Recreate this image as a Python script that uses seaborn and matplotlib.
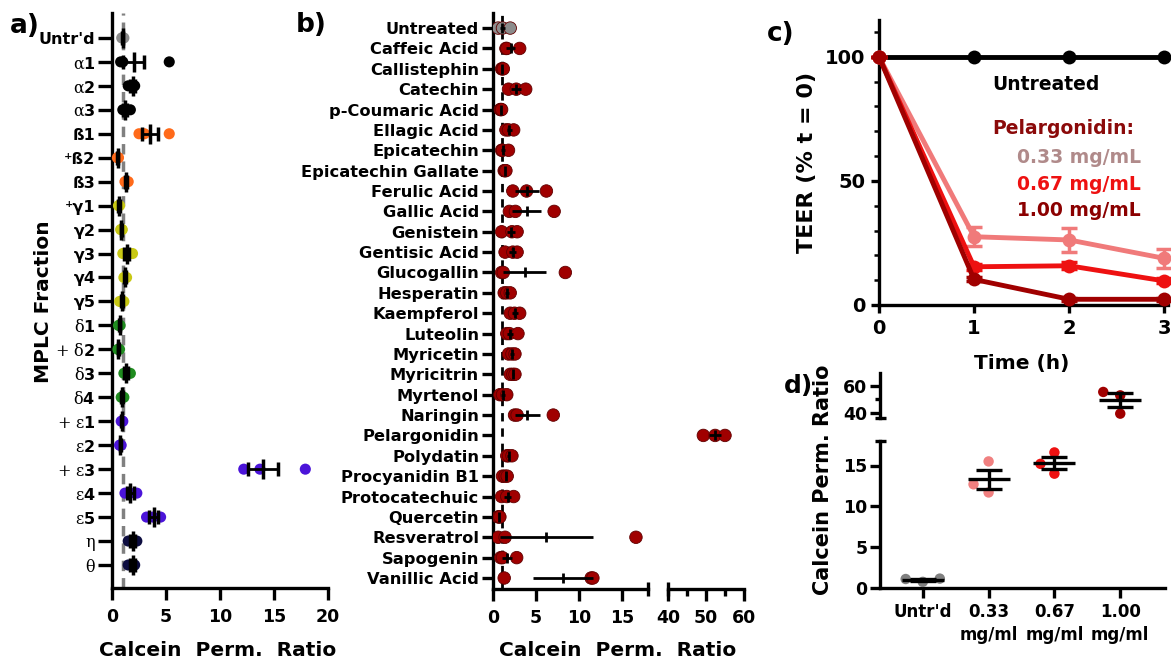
import numpy as np
import pandas as pd
import matplotlib
matplotlib.use("Agg")
import matplotlib.pyplot as plt
from matplotlib.ticker import FixedLocator
import seaborn as sns

# ---------------- panel a: MPLC fractions ----------------
a_labels = ["Untr'd", r"$\alpha$1", r"$\alpha$2", r"$\alpha$3", "ß1", "⁺ß2", "ß3",
            "⁺γ1", "γ2", "γ3", "γ4", "γ5", r"$\delta$1", r"$+\ \delta$2", r"$\delta$3",
            r"$\delta$4", r"$+\ \varepsilon$1", r"$\varepsilon$2", r"$+\ \varepsilon$3",
            r"$\varepsilon$4", r"$\varepsilon$5", r"$\eta$", r"$\theta$"]
a_points = [[0.9, 1.0, 1.1], [0.8, 1.0, 5.3], [1.5, 1.9, 2.1], [1.0, 1.2, 1.7],
            [2.5, 3.0, 5.3], [0.5, 0.55, 0.6], [1.2, 1.3, 1.5], [0.6, 0.65, 0.7],
            [0.8, 0.9, 0.95], [1.0, 1.2, 1.9], [1.1, 1.25, 1.35], [0.7, 0.85, 1.1],
            [0.6, 0.7, 0.75], [0.55, 0.6, 0.7], [1.1, 1.3, 1.7], [0.85, 0.95, 1.1],
            [0.85, 0.95, 1.0], [0.7, 0.75, 0.85], [12.2, 13.7, 17.9], [1.2, 1.7, 2.3],
            [3.2, 3.8, 4.5], [1.5, 1.9, 2.3], [1.5, 1.8, 2.1]]
a_means = [1.0, 2.0, 1.9, 1.2, 3.5, 0.55, 1.3, 0.65, 0.85, 1.35, 1.2, 0.9,
           0.7, 0.6, 1.3, 0.95, 0.9, 0.75, 14.0, 1.7, 3.85, 1.9, 1.9]
a_sems = [0.05, 1.0, 0.2, 0.2, 0.75, 0.05, 0.1, 0.05, 0.05, 0.25, 0.1, 0.1,
          0.05, 0.05, 0.2, 0.1, 0.05, 0.05, 1.4, 0.3, 0.4, 0.25, 0.2]
a_colors = ["#8c8c8c"] + ["#000000"] * 3 + ["#ff6a1a"] * 3 + ["#c8c814"] * 5 + \
           ["#1f8c1f"] * 4 + ["#4b14d9"] * 5 + ["#0d0d40"] * 2

# ---------------- panel b: compounds ----------------
b_labels = ["Untreated", "Caffeic Acid", "Callistephin", "Catechin", "p-Coumaric Acid",
            "Ellagic Acid", "Epicatechin", "Epicatechin Gallate", "Ferulic Acid",
            "Gallic Acid", "Genistein", "Gentisic Acid", "Glucogallin", "Hesperatin",
            "Kaempferol", "Luteolin", "Myricetin", "Myricitrin", "Myrtenol", "Naringin",
            "Pelargonidin", "Polydatin", "Procyanidin B1", "Protocatechuic", "Quercetin",
            "Resveratrol", "Sapogenin", "Vanillic Acid"]
b_points = [[0.6, 1.1, 2.0], [1.5, 1.6, 3.1], [1.0, 1.1, 1.2], [1.8, 2.7, 3.8],
            [0.85, 0.9, 1.0], [1.5, 1.8, 2.4], [1.0, 1.1, 1.8], [1.3, 1.4, 1.5],
            [2.3, 3.9, 6.2], [1.9, 2.6, 7.1], [1.0, 2.2, 2.8], [1.4, 2.3, 2.8],
            [1.0, 1.2, 8.4], [1.3, 1.6, 2.0], [2.0, 2.5, 3.1], [1.6, 1.9, 2.9],
            [1.8, 2.2, 2.55], [2.0, 2.3, 2.55], [0.8, 1.1, 1.6], [2.5, 2.8, 7.0],
            [49.3, 52.4, 55.0], [1.6, 1.8, 2.2], [1.1, 1.4, 1.65], [1.0, 1.6, 2.4],
            [0.6, 0.7, 0.8], [0.6, 1.4, 16.6], [0.9, 1.1, 2.75], [1.3, 11.4, 11.6]]
b_means = [1.1, 2.05, 1.1, 2.7, 0.9, 1.9, 1.2, 1.4, 3.9, 3.9, 2.1, 2.3, 3.7, 1.65,
           2.55, 2.0, 2.2, 2.3, 1.2, 4.0, 52.3, 1.8, 1.5, 1.7, 0.7, 6.2, 1.6, 8.1]
b_sems = [0.3, 0.5, 0.05, 0.6, 0.05, 0.3, 0.25, 0.05, 1.4, 1.7, 0.5, 0.4, 2.5, 0.2,
          0.3, 0.35, 0.2, 0.15, 0.25, 1.5, 1.6, 0.2, 0.15, 0.4, 0.05, 5.4, 0.6, 3.5]

# ---------------- panel c: TEER ----------------
c_time = [0, 1, 2, 3]
c_untreated = [100, 100, 100, 100]
c_033 = [100, 27.5, 26.2, 18.8]
c_033_err = [0, 3.8, 5.0, 3.8]
c_067 = [100, 15.4, 15.8, 9.7]
c_067_err = [0, 1.2, 1.5, 1.0]
c_100 = [100, 10.3, 2.3, 2.3]
c_100_err = [0, 0.8, 0.5, 0.5]

# ---------------- panel d: pelargonidin dose ----------------
d_groups = ["Untr'd", "0.33\nmg/ml", "0.67\nmg/ml", "1.00\nmg/ml"]
d_points = [[0.75, 1.15, 1.1], [11.7, 15.5, 12.7], [16.6, 14.0, 15.2], [55.4, 39.5, 52.9]]
d_means = [1.0, 13.3, 15.3, 49.3]
d_sems = [0.1, 1.15, 0.7, 5.1]
d_colors = ["#808080", "#f08080", "#ee1111", "#a00000"]

sns.set_style("ticks")
plt.rcParams["font.family"] = ["DejaVu Sans"]
plt.rcParams["mathtext.fontset"] = "custom"
plt.rcParams["mathtext.rm"] = "DejaVu Serif"
plt.rcParams["mathtext.it"] = "DejaVu Serif:italic"
plt.rcParams["mathtext.default"] = "rm"
for k in ["text.color", "axes.labelcolor", "xtick.color", "ytick.color", "axes.edgecolor"]:
    plt.rcParams[k] = "black"

W, H = 1171, 664
LW = 2.4
fig = plt.figure(figsize=(W / 100, H / 100), dpi=100)


def box(l, t, r, b):
    return [l / W, 1 - b / H, (r - l) / W, (b - t) / H]


def style_axis(ax, fs):
    for s in ["top", "right"]:
        ax.spines[s].set_visible(False)
    for s in ["left", "bottom"]:
        ax.spines[s].set_linewidth(LW)
    ax.tick_params(width=LW, labelsize=fs)
    for lab in ax.get_xticklabels() + ax.get_yticklabels():
        lab.set_fontweight("bold")
    ax.set_xlabel("")
    ax.set_ylabel("")


def long_df(labels, points):
    rows = [(lab, v) for lab, pts in zip(labels, points) for v in pts]
    return pd.DataFrame(rows, columns=["label", "value"])


# ---- a ----
ax_a = fig.add_axes(box(112, 13, 328, 588))
df_a = long_df(a_labels, a_points)
ax_a.axvline(1, color="#808080", ls=(0, (3, 2)), lw=2.5, zorder=1)
sns.stripplot(data=df_a, x="value", y="label", order=a_labels, hue="label",
              palette=dict(zip(a_labels, a_colors)), jitter=False, size=8,
              linewidth=0, legend=False, ax=ax_a, clip_on=False, zorder=3)
ax_a.errorbar(a_means, np.arange(len(a_labels)), xerr=a_sems, fmt="|", ms=15, mew=2.5,
              color="k", ecolor="k", elinewidth=2, capsize=5, capthick=2, zorder=4)
ax_a.set_xlim(0, 20)
ax_a.set_ylim(22.96, -1.04)
ax_a.set_xticks([0, 5, 10, 15, 20])
ax_a.set_yticks(range(len(a_labels)))
ax_a.set_yticklabels(a_labels)
style_axis(ax_a, 12.5)
ax_a.tick_params(axis="y", length=10, labelsize=11.5, pad=2)
ax_a.tick_params(axis="x", length=8.5, pad=6)

# ---- b ----
df_b = long_df(b_labels, b_points)
b_pal = {lab: ("#8c8c8c" if lab == "Untreated" else "#a00000") for lab in b_labels}
ax_b1 = fig.add_axes(box(493, 13, 648, 589))
ax_b2 = fig.add_axes(box(668, 13, 744, 589))
for ax, lo, hi in [(ax_b1, 0, 18), (ax_b2, 40, 60)]:
    sub = df_b[(df_b["value"] >= lo) & (df_b["value"] <= hi)]
    if lo == 0:
        ax.axvline(1, color="k", ls=(0, (3, 2.5)), lw=2, zorder=1)
    sns.stripplot(data=sub, x="value", y="label", order=b_labels, hue="label",
                  palette=b_pal, jitter=False, size=9, linewidth=0.6,
                  edgecolor="#600000", legend=False, ax=ax, zorder=3)
    ax.errorbar(b_means, np.arange(len(b_labels)), xerr=b_sems, fmt="|", ms=7, mew=2,
                color="k", ecolor="k", elinewidth=2, capsize=0, zorder=4)
    ax.set_xlim(lo, hi)
    ax.set_ylim(27.54, -0.74)
ax_b1.set_xticks([0, 5, 10, 15])
ax_b1.set_yticks(range(len(b_labels)))
ax_b1.set_yticklabels(b_labels)
style_axis(ax_b1, 12.5)
ax_b1.tick_params(axis="y", length=8, labelsize=11.7, pad=2)
ax_b1.tick_params(axis="x", length=8.5, pad=6)
ax_b2.set_xticks([40, 50, 60])
ax_b2.xaxis.set_minor_locator(FixedLocator([45, 55]))
style_axis(ax_b2, 12.5)
ax_b2.spines["left"].set_visible(False)
ax_b2.set_yticks([])
ax_b2.tick_params(axis="x", length=8.5, pad=6)
ax_b2.tick_params(axis="x", which="minor", length=5, width=LW)
for ax, xb in [(ax_b1, 18), (ax_b2, 40)]:
    ax.plot([xb, xb], [-0.013, 0.013], transform=ax.get_xaxis_transform(),
            color="k", lw=LW, clip_on=False, solid_capstyle="butt")

# ---- c ----
ax_c = fig.add_axes(box(879, 20, 1168, 305))
series = [(c_untreated, None, "#000000"), (c_033, c_033_err, "#f07a7a"),
          (c_067, c_067_err, "#ee1111"), (c_100, c_100_err, "#a00000")]
for vals, err, col in series:
    sns.lineplot(x=c_time, y=vals, color=col, lw=3.5, marker="o", markersize=10,
                 markeredgewidth=0, ax=ax_c, clip_on=False, zorder=3)
    if err is not None:
        ax_c.errorbar(c_time, vals, yerr=err, fmt="none", ecolor=col, elinewidth=2.5,
                      capsize=6, capthick=2.5, zorder=3, clip_on=False)
ax_c.set_xlim(0, 3.04)
ax_c.set_ylim(0, 114.8)
ax_c.set_xticks(c_time)
ax_c.set_yticks([0, 50, 100])
ax_c.yaxis.set_minor_locator(FixedLocator([10, 20, 30, 40, 60, 70, 80, 90, 110]))
style_axis(ax_c, 14)
ax_c.tick_params(axis="both", which="major", length=6, pad=4)
ax_c.tick_params(axis="y", which="minor", length=3.6, width=1.8)
tc = dict(fontsize=13.5, fontweight="bold", va="center")
fig.text(992 / W, 1 - 85 / H, "Untreated", ha="left", color="k", **tc)
fig.text(992 / W, 1 - 128 / H, "Pelargonidin:", ha="left", color="#8b0a0a", **tc)
fig.text(1141 / W, 1 - 157 / H, "0.33 mg/mL", ha="right", color="#b08a8a", **tc)
fig.text(1141 / W, 1 - 185 / H, "0.67 mg/mL", ha="right", color="#ee1111", **tc)
fig.text(1141 / W, 1 - 211 / H, "1.00 mg/mL", ha="right", color="#8b0000", **tc)

# ---- d ----
df_d = long_df(d_groups, d_points)
d_pal = dict(zip(d_groups, d_colors))
ax_d1 = fig.add_axes(box(880, 441, 1165, 588))
ax_d2 = fig.add_axes(box(880, 373, 1165, 418))
for ax, grp in [(ax_d1, d_groups[:3]), (ax_d2, d_groups[3:])]:
    sub = df_d[df_d["label"].isin(grp)]
    # the wide invisible edge only spreads the swarm sideways
    sns.swarmplot(data=sub, x="label", y="value", order=d_groups, hue="label",
                  palette=d_pal, size=7.5, linewidth=4.4, edgecolor="none",
                  legend=False, ax=ax, clip_on=False, zorder=3)
    idx = [d_groups.index(g) for g in grp]
    ax.errorbar(idx, [d_means[i] for i in idx], yerr=[d_sems[i] for i in idx], fmt="_",
                ms=30, mew=LW, color="k", ecolor="k", elinewidth=LW, capsize=9.5,
                capthick=LW, zorder=4, clip_on=False)
    ax.set_xlim(-0.65, 3.68)
ax_d1.set_ylim(0, 18)
ax_d1.set_yticks([0, 5, 10, 15])
ax_d1.set_xticks(range(4))
ax_d1.set_xticklabels(d_groups, linespacing=1.35)
style_axis(ax_d1, 12.5)
ax_d1.tick_params(length=7, pad=2)
ax_d1.tick_params(axis="x", labelsize=12, pad=4)
ax_d1.plot([-0.018, 0.02], [18, 18], transform=ax_d1.get_yaxis_transform(),
           color="k", lw=LW, clip_on=False, solid_capstyle="butt")
ax_d2.set_ylim(36.3, 69.3)
ax_d2.set_yticks([40, 60])
ax_d2.yaxis.set_minor_locator(FixedLocator([50]))
style_axis(ax_d2, 12.5)
ax_d2.spines["bottom"].set_visible(False)
ax_d2.set_xticks([])
ax_d2.tick_params(axis="y", length=7, pad=2)
ax_d2.tick_params(axis="y", which="minor", length=3.5, width=LW)
ax_d2.plot([-0.018, 0.02], [0, 0], transform=ax_d2.transAxes,
           color="k", lw=LW, clip_on=False, solid_capstyle="butt")

# ---- axis titles and panel letters ----
lab = dict(fontweight="bold", ha="center", va="center")
fig.text(218 / W, 1 - 651 / H, "Calcein  Perm.  Ratio", fontsize=14.5, **lab)
fig.text(618 / W, 1 - 651 / H, "Calcein  Perm.  Ratio", fontsize=14.5, **lab)
fig.text(44 / W, 1 - 302 / H, "MPLC Fraction", rotation=90, fontsize=14.5, **lab)
fig.text(807 / W, 1 - 162 / H, "TEER (% t = 0)", rotation=90, fontsize=16, **lab)
fig.text(1022 / W, 1 - 363 / H, "Time (h)", fontsize=14.5, **lab)
fig.text(823 / W, 1 - 480 / H, "Calcein Perm. Ratio", rotation=90, fontsize=15, **lab)
for t, x, y, fs in [("a)", 10, 26, 19), ("b)", 296, 25, 19), ("c)", 767, 34, 19),
                    ("d)", 784, 386, 18)]:
    fig.text(x / W, 1 - y / H, t, fontsize=fs, fontweight="bold", ha="left", va="center")

fig.savefig("out.png", dpi=100)
